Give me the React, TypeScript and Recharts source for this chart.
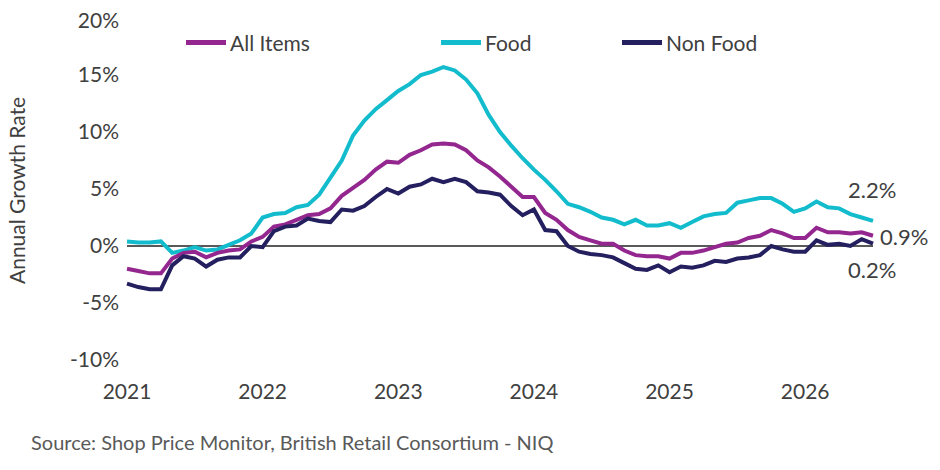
import { LineChart, Line, XAxis, YAxis, ReferenceLine } from 'recharts';

const allItems = [
  -2.0, -2.2, -2.4, -2.4, -1.1, -0.6, -0.5, -1.0, -0.6, -0.4, -0.3, 0.4,
  0.8, 1.7, 1.9, 2.3, 2.7, 2.8, 3.3, 4.4, 5.1, 5.8, 6.7, 7.4,
  7.3, 8.0, 8.4, 8.9, 9.0, 8.9, 8.4, 7.5, 6.9, 6.1, 5.2, 4.3,
  4.3, 2.9, 2.3, 1.4, 0.8, 0.5, 0.2, 0.2, -0.4, -0.8, -0.9, -0.9,
  -1.1, -0.6, -0.6, -0.4, -0.1, 0.2, 0.3, 0.7, 0.9, 1.4, 1.1, 0.7,
  0.7, 1.6, 1.2, 1.2, 1.1, 1.2, 0.9,
];

const food = [
  0.4, 0.3, 0.3, 0.4, -0.6, -0.4, -0.1, -0.4, -0.3, 0.1, 0.5, 1.1,
  2.5, 2.8, 2.9, 3.4, 3.6, 4.5, 6.0, 7.5, 9.7, 11.0, 12.0, 12.8,
  13.6, 14.2, 15.0, 15.3, 15.7, 15.4, 14.6, 13.4, 11.5, 10.0, 8.8, 7.7,
  6.7, 5.8, 4.8, 3.7, 3.4, 3.0, 2.5, 2.3, 1.9, 2.3, 1.8, 1.8,
  2.0, 1.6, 2.1, 2.6, 2.8, 2.9, 3.8, 4.0, 4.2, 4.2, 3.7, 3.0,
  3.3, 3.9, 3.4, 3.3, 2.8, 2.5, 2.2,
];

const nonFood = [
  -3.3, -3.6, -3.8, -3.8, -1.7, -0.9, -1.1, -1.8, -1.2, -1.0, -1.0, 0.0,
  -0.1, 1.3, 1.7, 1.8, 2.4, 2.2, 2.1, 3.2, 3.1, 3.5, 4.3, 5.0,
  4.6, 5.2, 5.4, 5.9, 5.6, 5.9, 5.6, 4.8, 4.7, 4.5, 3.5, 2.7,
  3.2, 1.4, 1.3, 0.0, -0.5, -0.7, -0.8, -1.0, -1.5, -2.0, -2.1, -1.7,
  -2.3, -1.8, -1.9, -1.7, -1.3, -1.4, -1.1, -1.0, -0.8, 0.0, -0.3, -0.5,
  -0.5, 0.5, 0.1, 0.2, 0.0, 0.6, 0.2,
];

const years = ['2021', '2022', '2023', '2024', '2025', '2026'];
const yTicks = [-10, -5, 0, 5, 10, 15, 20];

const data = allItems.map((v, i) => ({ idx: i, all: v, food: food[i], nonFood: nonFood[i] }));
const last = data.length - 1;

const font = 'Lato, "Open Sans", sans-serif';
const textColor = '#404040';

const endLabel = (dx: number, dy: number) => (props: any) => {
  if (props.index !== last) return null;
  return (
    <text x={props.x + dx} y={props.y + dy} fill={textColor} fontSize={22} fontFamily={font} dominantBaseline="middle">
      {`${props.value.toFixed(1)}%`}
    </text>
  );
};

const legendItems = [
  { name: 'All Items', color: '#93278F', x: 178 },
  { name: 'Food', color: '#12BCCD', x: 433 },
  { name: 'Non Food', color: '#241F5E', x: 614 },
];

export default function App() {
  return (
    <div style={{ width: 924, fontFamily: font, position: 'relative' }}>
      <LineChart width={924} height={400} data={data} margin={{ top: 10, right: 59, bottom: 8, left: 30 }}>
        <XAxis
          dataKey="idx"
          type="number"
          domain={[0, last]}
          ticks={[0, 12, 24, 36, 48, 60]}
          tickFormatter={(v) => years[v / 12]}
          axisLine={false}
          tickLine={false}
          height={40}
          tick={{ fill: textColor, fontSize: 21, fontFamily: font }}
          tickMargin={18}
        />
        <YAxis
          domain={[-10, 20]}
          ticks={yTicks}
          tickFormatter={(v) => `${v}%`}
          axisLine={false}
          tickLine={false}
          width={89}
          tick={{ fill: textColor, fontSize: 21, fontFamily: font }}
          label={{ value: 'Annual Growth Rate', angle: -90, position: 'insideLeft', offset: -20, fill: textColor, fontSize: 21, fontFamily: font, dy: 95 }}
        />
        <ReferenceLine y={0} stroke="#595959" strokeWidth={2} />
        <Line dataKey="food" stroke="#12BCCD" strokeWidth={4} dot={false} isAnimationActive={false} label={endLabel(-25, -28)} />
        <Line dataKey="all" stroke="#93278F" strokeWidth={4} dot={false} isAnimationActive={false} label={endLabel(7, 4)} />
        <Line dataKey="nonFood" stroke="#241F5E" strokeWidth={4} dot={false} isAnimationActive={false} label={endLabel(-25, 29)} />
      </LineChart>
      <div style={{ position: 'absolute', top: 22, left: 0, width: 924, height: 30, fontSize: 21, color: textColor }}>
        {legendItems.map((it) => (
          <div key={it.name} style={{ position: 'absolute', left: it.x, top: 0, display: 'flex', alignItems: 'center' }}>
            <span style={{ display: 'inline-block', width: 40, height: 5, background: it.color, marginRight: 4 }} />
            <span>{it.name}</span>
          </div>
        ))}
      </div>
      <div style={{ marginTop: 22, marginLeft: 23, fontSize: 20, color: '#595959' }}>
        Source: Shop Price Monitor, British Retail Consortium - NIQ
      </div>
    </div>
  );
}
